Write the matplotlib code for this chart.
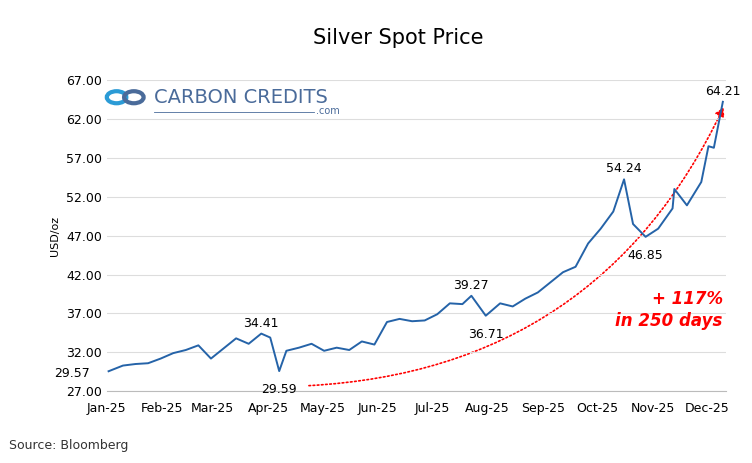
import matplotlib
matplotlib.use("Agg")
import matplotlib.pyplot as plt
import matplotlib.dates as mdates
from matplotlib.patches import FancyArrowPatch, Circle
import pandas as pd

dates = ["2025-01-02","2025-01-10","2025-01-17","2025-01-24","2025-01-31","2025-02-07","2025-02-14",
         "2025-02-21","2025-02-28","2025-03-07","2025-03-14","2025-03-21","2025-03-28","2025-04-02",
         "2025-04-07","2025-04-11","2025-04-18","2025-04-25","2025-05-02","2025-05-09","2025-05-16",
         "2025-05-23","2025-05-30","2025-06-06","2025-06-13","2025-06-20","2025-06-27","2025-07-04",
         "2025-07-11","2025-07-18","2025-07-23","2025-07-31","2025-08-08","2025-08-15","2025-08-22",
         "2025-08-29","2025-09-05","2025-09-12","2025-09-19","2025-09-26","2025-10-03","2025-10-10",
         "2025-10-16","2025-10-21","2025-10-28","2025-11-04","2025-11-12","2025-11-13","2025-11-20",
         "2025-11-28","2025-12-02","2025-12-05","2025-12-10"]
prices = [29.57,30.3,30.5,30.6,31.2,31.9,32.3,32.9,31.2,32.5,33.8,33.1,34.41,33.9,
          29.59,32.2,32.6,33.1,32.2,32.6,32.3,33.4,33.0,35.9,36.3,36.0,36.1,36.9,
          38.3,38.2,39.27,36.71,38.3,37.9,38.9,39.7,41.0,42.3,43.0,46.0,47.9,50.1,
          54.24,48.5,46.85,47.9,50.5,53.0,50.9,53.9,58.5,58.3,64.21]
labels = {"2025-01-02":(29.57,"29.57"),"2025-03-28":(34.41,"34.41"),"2025-04-07":(29.59,"29.59"),
          "2025-07-23":(39.27,"39.27"),"2025-07-31":(36.71,"36.71"),"2025-10-16":(54.24,"54.24"),
          "2025-10-28":(46.85,"46.85"),"2025-12-10":(64.21,"64.21")}
ticks = pd.date_range("2025-01-01","2025-12-01",freq="MS")
yticks = [27,32,37,42,47,52,57,62,67]

d = pd.to_datetime(dates)
fig = plt.figure(figsize=(7.52,4.63),dpi=100)
ax = fig.add_axes([0.142,0.155,0.824,0.672])
ax.plot(d,prices,color="#2563a8",lw=1.4)
ax.set_ylim(27,67)
ax.set_xlim(pd.Timestamp("2025-01-01"),pd.Timestamp("2025-12-12"))
ax.set_yticks(yticks)
ax.set_yticklabels([f"{v:.2f}" for v in yticks],fontsize=9)
ax.set_xticks(ticks)
ax.xaxis.set_major_formatter(mdates.DateFormatter("%b-%y"))
ax.tick_params(axis="x",labelsize=9,length=0,pad=8)
ax.tick_params(axis="y",length=0)
ax.grid(axis="y",color="#dddddd",lw=0.8)
for s in ["top","right","left"]:
    ax.spines[s].set_visible(False)
ax.spines["bottom"].set_color("#bbbbbb")
ax.set_ylabel("USD/oz",fontsize=8)
offs = {"29.57":(-26,-4),"34.41":(0,5),"29.59":(0,-16),"39.27":(0,5),"36.71":(0,-16),
        "54.24":(0,5),"46.85":(0,-16),"64.21":(0,5)}
for k,(v,t) in labels.items():
    dx,dy = offs[t]
    ax.annotate(t,(pd.Timestamp(k),v),xytext=(dx,dy),textcoords="offset points",
                ha="center",fontsize=9)
arr = FancyArrowPatch((mdates.date2num(pd.Timestamp("2025-04-22")),27.7),
                      (mdates.date2num(pd.Timestamp("2025-12-11")),63.8),
                      connectionstyle="arc3,rad=0.3",arrowstyle="-|>,head_length=5,head_width=3",
                      color="red",ls=(0,(1,1.5)),lw=1.2)
ax.add_patch(arr)
ax.text(pd.Timestamp("2025-12-10"),37.4,"+ 117%\nin 250 days",color="red",fontsize=12,
        fontweight="bold",style="italic",ha="right",va="center",linespacing=1.3)
fig.text(0.53,0.905,"Silver Spot Price",ha="center",fontsize=15)
fig.text(0.012,0.03,"Source: Bloomberg",fontsize=9,color="#333333")
# logo
fig.text(0.205,0.79,"CARBON CREDITS",fontsize=14,color="#4a6b9a",va="center")
fig.text(0.42,0.76,".com",fontsize=7,color="#4a6b9a",va="center")
fig.add_artist(plt.Line2D([0.205,0.418],[0.758,0.758],color="#4a6b9a",lw=0.6))
for cx in [0.155,0.178]:
    fig.add_artist(Circle((cx,0.79),0.013,transform=fig.transFigure,fill=False,
                          ec="#2b9bd6" if cx<0.16 else "#4a6b9a",lw=3))
fig.savefig("out.png",dpi=100)
